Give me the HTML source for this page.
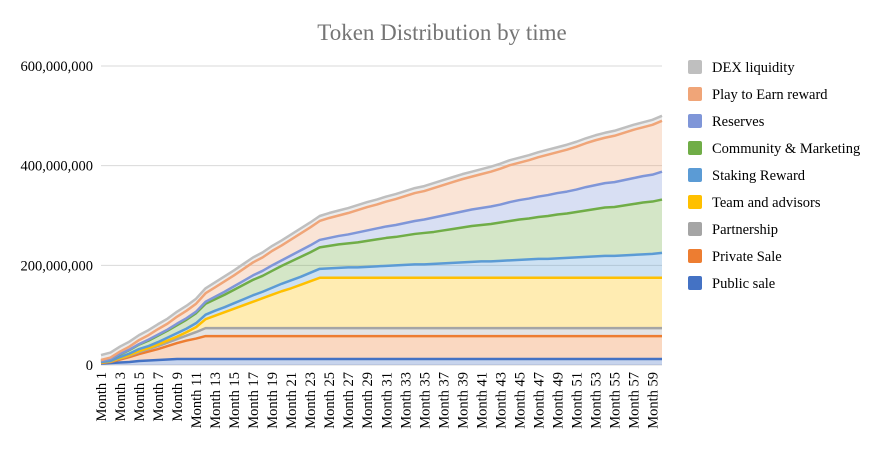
<!DOCTYPE html>
<html><head><meta charset="utf-8"><style>
body{margin:0;background:#fff}
svg text{font-family:"Liberation Serif",serif}
</style></head><body>
<svg width="875" height="450">
<text x="442" y="40" text-anchor="middle" font-size="23" fill="#757575">Token Distribution by time</text>
<g id="grid"></g><g id="areas"></g><g id="lines"></g><g id="xlabels"></g><g id="legend"></g>
</svg>
<script>
const months = Array.from({length:60},(_,i)=>'Month '+(i+1));
const seriesNames = ["Public sale","Private Sale","Partnership","Team and advisors","Staking Reward","Community & Marketing","Reserves","Play to Earn reward","DEX liquidity"];
const publicSale = [3,4,5,6,8,9,10,11,12,12,12,12,12,12,12,12,12,12,12,12,12,12,12,12,12,12,12,12,12,12,12,12,12,12,12,12,12,12,12,12,12,12,12,12,12,12,12,12,12,12,12,12,12,12,12,12,12,12,12,12];
const privateSale = [1,2,6,10,14,18,22,27,32,37,41,46,46,46,46,46,46,46,46,46,46,46,46,46,46,46,46,46,46,46,46,46,46,46,46,46,46,46,46,46,46,46,46,46,46,46,46,46,46,46,46,46,46,46,46,46,46,46,46,46];
const partnership = [1,1,2,3,4,5,6,7,8,10,13,16,16,16,16,16,16,16,16,16,16,16,16,16,16,16,16,16,16,16,16,16,16,16,16,16,16,16,16,16,16,16,16,16,16,16,16,16,16,16,16,16,16,16,16,16,16,16,16,16];
const team = [0,0,1,1,2,2,3,4,5,7,10,18,25,32,39,46,53,60,67,74,80,87,94,101,101,101,101,101,101,101,101,101,101,101,101,101,101,101,101,101,101,101,101,101,101,101,101,101,101,101,101,101,101,101,101,101,101,101,101,101];
const staking = [1,1,2,3,4,4,5,6,7,7,8,9,10,10,11,12,13,13,14,15,16,16,17,18,19,20,21,21,22,23,24,25,26,27,27,28,29,30,31,32,33,33,34,35,36,37,38,38,39,40,41,42,43,44,44,45,46,47,48,50];
const community = [2,4,5,7,9,11,13,14,16,18,20,22,23,25,27,29,31,32,34,36,38,40,41,43,45,47,48,50,52,54,56,57,59,61,63,64,66,68,70,72,73,75,77,79,81,82,84,86,88,89,91,93,95,97,98,100,102,104,105,107];
const reserves = [0,0,1,1,1,2,2,2,3,3,3,4,5,6,7,8,9,10,11,11,12,13,14,15,16,17,18,20,21,22,23,24,25,26,27,29,30,31,32,33,34,35,36,38,39,40,41,42,43,44,45,47,48,49,50,51,52,53,54,56];
const playToEarn = [2,3,5,6,8,9,11,12,14,15,16,17,19,21,22,24,26,27,29,30,32,34,36,38,40,41,43,45,47,48,50,52,54,56,57,59,61,63,65,66,68,70,72,74,75,77,79,81,82,84,86,88,90,91,93,95,97,98,100,102];
const dex = [10,10,10,10,10,10,10,10,10,10,10,10,10,10,10,10,10,10,10,10,10,10,10,10,10,10,10,10,10,10,10,10,10,10,10,10,10,10,10,10,10,10,10,10,10,10,10,10,10,10,10,10,10,10,10,10,10,10,10,10];
const yTicks = [0,200,400,600];
const yTickLabels = ["0","200,000,000","400,000,000","600,000,000"];

const series=[publicSale,privateSale,partnership,team,staking,community,reserves,playToEarn,dex];
const lineColors=["#4472C4","#ED7D31","#A5A5A5","#FFC000","#5B9BD5","#70AD47","#7F96D8","#F0A578","#BFBFBF"];
const x0=101,x1=662,yBase=365,yTop=66,yMax=600;
const n=months.length;
const xs=i=>x0+i*(x1-x0)/(n-1);
const ys=v=>yBase-v*(yBase-yTop)/yMax;
const NS="http://www.w3.org/2000/svg";
function mk(tag,attrs,parent){const e=document.createElementNS(NS,tag);for(const k in attrs)e.setAttribute(k,attrs[k]);parent.appendChild(e);return e;}
const grid=document.getElementById('grid');
yTicks.forEach((t,i)=>{
  const l=mk('line',{x1:x0,x2:x1,y1:ys(t),y2:ys(t),stroke:'#d9d9d9','stroke-width':1},grid);
  
  
  const tx=mk('text',{x:93,y:ys(t)+5,'text-anchor':'end','font-size':14.5,fill:'#000'},grid);
  tx.textContent=yTickLabels[i];
  
  
});
const areas=document.getElementById('areas'),lines=document.getElementById('lines');
let cum=new Array(n).fill(0);
series.forEach((s,k)=>{
  const lower=cum.slice();
  cum=cum.map((c,i)=>c+s[i]);
  let d='M'+cum.map((v,i)=>xs(i)+','+ys(v)).join(' L');
  for(let i=n-1;i>=0;i--)d+=' L'+xs(i)+','+ys(lower[i]);
  d+=' Z';
  const a=mk('path',{d:d,fill:lineColors[k],'fill-opacity':0.3,stroke:'none'},areas);
  
  
  const p=mk('polyline',{points:cum.map((v,i)=>xs(i)+','+ys(v)).join(' '),fill:'none',stroke:lineColors[k],'stroke-width':2.5,'stroke-linejoin':'round'},lines);
  
  
});
const xl=document.getElementById('xlabels');
months.forEach((m,i)=>{
  if(i%2)return;
  const t=mk('text',{x:0,y:0,'text-anchor':'end','font-size':14.5,transform:`translate(${xs(i)+5},372) rotate(-90)`},xl);
  t.textContent=m;
  
  
});
const lg=document.getElementById('legend');
for(let k=series.length-1,r=0;k>=0;k--,r++){
  const y=67+r*27;
  const g=mk('g',{},lg);
  
  
  mk('rect',{x:688,y:y-7,width:14,height:14,rx:2,fill:lineColors[k]},g);
  const t=mk('text',{x:712,y:y+5,'font-size':14.5,fill:'#000'},g);
  t.textContent=seriesNames[k];
}
</script>
</body></html>
